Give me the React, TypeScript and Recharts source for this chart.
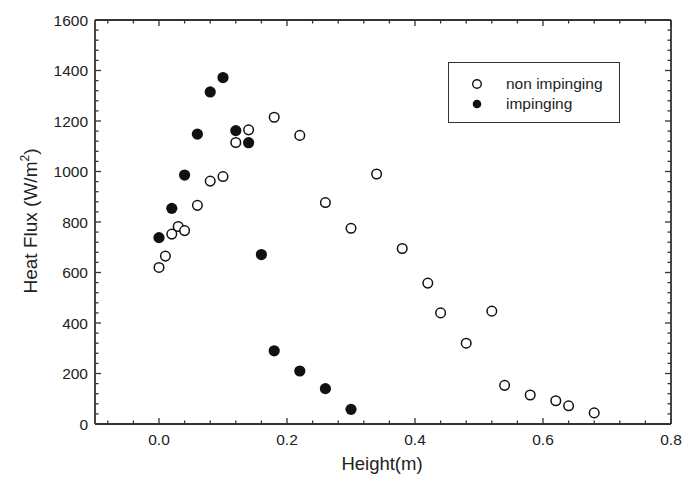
import React from "react";
import { ScatterChart, Scatter, XAxis, YAxis, Legend } from "recharts";

// Height (m) vs heat flux (W/m2)
const NON_IMP_X = [0.0, 0.01, 0.02, 0.03, 0.04, 0.06, 0.08, 0.1, 0.12, 0.14, 0.18, 0.22, 0.26, 0.3, 0.34, 0.38, 0.42, 0.44, 0.48, 0.52, 0.54, 0.58, 0.62, 0.64, 0.68];
const NON_IMP_Y = [620, 665, 752, 782, 766, 866, 962, 980, 1115, 1165, 1215, 1143, 877, 775, 990, 695, 558, 440, 320, 447, 153, 115, 92, 72, 44];

const IMP_X = [0.0, 0.02, 0.04, 0.06, 0.08, 0.1, 0.12, 0.14, 0.16, 0.18, 0.22, 0.26, 0.3];
const IMP_Y = [738, 854, 986, 1148, 1315, 1372, 1162, 1114, 671, 290, 210, 140, 58];

const X_TICKS = [-0.08, -0.04, 0, 0.04, 0.08, 0.12, 0.16, 0.2, 0.24, 0.28, 0.32, 0.36, 0.4, 0.44, 0.48, 0.52, 0.56, 0.6, 0.64, 0.68, 0.72, 0.76, 0.8];
const Y_TICKS = [0, 40, 80, 120, 160, 200, 240, 280, 320, 360, 400, 440, 480, 520, 560, 600, 640, 680, 720, 760, 800, 840, 880, 920, 960, 1000, 1040, 1080, 1120, 1160, 1200, 1240, 1280, 1320, 1360, 1400, 1440, 1480, 1520, 1560, 1600];

const nonImpinging = NON_IMP_X.map((x, i) => ({ x, y: NON_IMP_Y[i] }));
const impinging = IMP_X.map((x, i) => ({ x, y: IMP_Y[i] }));

const FONT = "'Liberation Sans', Arial, sans-serif";
const INK = "#222";
const FRAME = "#333";

const isMajor = (v: number, step: number) => Math.abs(v / step - Math.round(v / step)) < 1e-6;

// inward tick marks, label only on major ticks
function makeTick(side: "bottom" | "top" | "left" | "right", step: number, showLabel: boolean, fmt: (v: number) => string) {
  return (props: any) => {
    const { x, y, payload } = props;
    const v = payload.value;
    const major = isMajor(v, step);
    const len = major ? 6 : 3.5;
    let line;
    if (side === "bottom") line = <line x1={x} y1={y} x2={x} y2={y - len} stroke={FRAME} strokeWidth={1.3} />;
    else if (side === "top") line = <line x1={x} y1={y} x2={x} y2={y + len} stroke={FRAME} strokeWidth={1.3} />;
    else if (side === "left") line = <line x1={x} y1={y} x2={x + len} y2={y} stroke={FRAME} strokeWidth={1.3} />;
    else line = <line x1={x} y1={y} x2={x - len} y2={y} stroke={FRAME} strokeWidth={1.3} />;
    return (
      <g>
        {line}
        {showLabel && major && side === "bottom" && (
          <text x={x} y={y + 21} textAnchor="middle" fontSize={15.5} fill={INK} fontFamily={FONT}>
            {fmt(v)}
          </text>
        )}
        {showLabel && major && side === "left" && (
          <text x={x - 7} y={y + 5.5} textAnchor="end" fontSize={15.5} fill={INK} fontFamily={FONT}>
            {fmt(v)}
          </text>
        )}
      </g>
    );
  };
}

const OpenDot = (p: any) => <circle cx={p.cx} cy={p.cy} r={4.8} fill="#fff" stroke="#111" strokeWidth={1.5} />;
const FilledDot = (p: any) => <circle cx={p.cx} cy={p.cy} r={5.6} fill="#111" stroke="none" />;

const LegendBox = () => (
  <div
    style={{
      border: "1.2px solid #333",
      width: 172,
      height: 61,
      boxSizing: "border-box",
      background: "#fff",
      fontFamily: FONT,
      fontSize: 15.5,
      color: INK,
      paddingTop: 11,
    }}
  >
    {[
      { label: "non impinging", filled: false },
      { label: "impinging", filled: true },
    ].map((it) => (
      <div key={it.label} style={{ display: "flex", alignItems: "center", height: 20 }}>
        <svg width={57} height={20}>
          <circle cx={28} cy={10} r={4.3} fill={it.filled ? "#111" : "#fff"} stroke="#111" strokeWidth={it.filled ? 0 : 1.4} />
        </svg>
        <span>{it.label}</span>
      </div>
    ))}
  </div>
);

export default function App() {
  return (
    <div style={{ position: "absolute", left: 0, top: 0, background: "#fff" }}>
      <ScatterChart width={693} height={485} margin={{ top: 15, right: 17, left: 40, bottom: 21 }}>
        <XAxis
          type="number"
          dataKey="x"
          domain={[-0.1, 0.8]}
          ticks={X_TICKS}
          interval={0}
          height={40}
          tickSize={0}
          tickMargin={0}
          tickLine={false}
          axisLine={{ stroke: FRAME, strokeWidth: 1.8 }}
          tick={makeTick("bottom", 0.2, true, (v) => v.toFixed(1))}
          allowDataOverflow
          label={{
            content: () => (
              <text x={382} y={470} textAnchor="middle" fontSize={18.5} fill={INK} fontFamily={FONT}>
                Height(m)
              </text>
            ),
          }}
        />
        <XAxis
          xAxisId="top"
          orientation="top"
          type="number"
          dataKey="x"
          domain={[-0.1, 0.8]}
          ticks={X_TICKS}
          interval={0}
          height={5}
          tickSize={0}
          tickMargin={0}
          tickLine={false}
          axisLine={{ stroke: FRAME, strokeWidth: 1.8 }}
          tick={makeTick("top", 0.2, false, (v) => String(v))}
          allowDataOverflow
        />
        <YAxis
          type="number"
          dataKey="y"
          domain={[0, 1600]}
          ticks={Y_TICKS}
          interval={0}
          width={55}
          tickSize={0}
          tickMargin={0}
          tickLine={false}
          axisLine={{ stroke: FRAME, strokeWidth: 1.8 }}
          tick={makeTick("left", 200, true, (v) => String(v))}
          allowDataOverflow
          label={{
            content: () => (
              <text
                x={0}
                y={0}
                transform="translate(37,221) rotate(-90)"
                textAnchor="middle"
                fontSize={19}
                fill={INK}
                fontFamily={FONT}
              >
                Heat Flux (W/m
                <tspan fontSize={12} dy={-8}>2</tspan>
                <tspan dy={8}>)</tspan>
              </text>
            ),
          }}
        />
        <YAxis
          yAxisId="right"
          orientation="right"
          type="number"
          dataKey="y"
          domain={[0, 1600]}
          ticks={Y_TICKS}
          interval={0}
          width={5}
          tickSize={0}
          tickMargin={0}
          tickLine={false}
          axisLine={{ stroke: FRAME, strokeWidth: 1.8 }}
          tick={makeTick("right", 200, false, (v) => String(v))}
          allowDataOverflow
        />
        <Legend
          layout="vertical"
          align="center"
          verticalAlign="middle"
          wrapperStyle={{ position: "absolute", left: 448, top: 62, width: 172, height: 61 }}
          content={() => <LegendBox />}
        />
        <Scatter name="non impinging" data={nonImpinging} shape={OpenDot} isAnimationActive={false} />
        <Scatter name="impinging" data={impinging} shape={FilledDot} isAnimationActive={false} />
      </ScatterChart>
    </div>
  );
}
